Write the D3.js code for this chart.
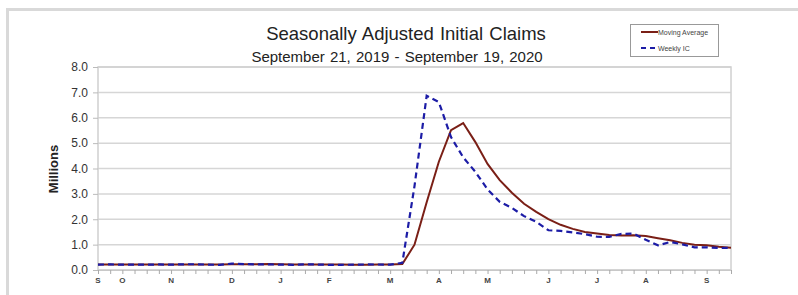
<!DOCTYPE html>
<html>
<head>
<meta charset="utf-8">
<script src="https://cdn.jsdelivr.net/npm/d3@7"></script>
<style>
  body { margin: 0; background: #fff; }
  text { font-family: "Liberation Sans", Arial, sans-serif; }
</style>
</head>
<body>
<script>
// Chart size
const w = 798;
const h = 295;

// Plot area edges
const plotLeft = 98;
const plotRight = 731;
const plotTop = 67;
const plotBottom = 270;

// Week ending dates, Sep 21 2019 - Sep 19 2020
const startWeek = new Date(2019, 8, 21);
const weekCount = 53;

// Weekly initial claims, seasonally adjusted (millions)
const weeklyIC = [
  0.213, 0.219, 0.210, 0.214, 0.212, 0.218, 0.211, 0.225, 0.227, 0.213,
  0.203, 0.252, 0.234, 0.222, 0.220, 0.214, 0.204, 0.223, 0.216, 0.202,
  0.205, 0.210, 0.219, 0.216, 0.211, 0.282, 3.307, 6.867, 6.615, 5.237,
  4.442, 3.867, 3.176, 2.687, 2.446, 2.123, 1.897, 1.566, 1.540, 1.482,
  1.413, 1.310, 1.307, 1.422, 1.435, 1.191, 0.971, 1.104, 1.011, 0.893,
  0.893, 0.866, 0.870
];

// 4-week moving average (millions)
const movingAvg = [
  0.212, 0.213, 0.214, 0.214, 0.214, 0.214, 0.214, 0.217, 0.220, 0.220,
  0.217, 0.224, 0.226, 0.228, 0.232, 0.223, 0.215, 0.215, 0.214, 0.212,
  0.212, 0.209, 0.209, 0.213, 0.212, 0.232, 0.998, 2.667, 4.268, 5.507,
  5.790, 5.040, 4.180, 3.543, 3.044, 2.608, 2.288, 2.008, 1.782, 1.621,
  1.500, 1.436, 1.378, 1.363, 1.369, 1.339, 1.255, 1.175, 1.069, 0.995,
  0.975, 0.916, 0.881
];

// Month letters and the week index they sit on
const monthLabels = ["S", "O", "N", "D", "J", "F", "M", "A", "M", "J", "J", "A", "S"];
const monthWeeks = [0, 2, 6, 11, 15, 19, 24, 28, 32, 37, 41, 45, 50];

// Y ticks
const yTicks = [0, 1, 2, 3, 4, 5, 6, 7, 8];

const weeks = d3.range(weekCount).map(i => d3.timeWeek.offset(startWeek, i));

const svg = d3.select("body").append("svg").attr("width", w).attr("height", h);

// Outer frame (grey card edge at top and left)
svg.append("rect")
  .attr("x", 7.5).attr("y", 9.5)
  .attr("width", w + 20).attr("height", h + 20)
  .attr("fill", "none")
  .attr("stroke", "#d9d9d9")
  .attr("stroke-width", 3);

const xScale = d3.scaleTime()
  .domain([weeks[0], weeks[weekCount - 1]])
  .range([plotLeft, plotRight]);

const yScale = d3.scaleLinear()
  .domain([0, 8])
  .range([plotBottom, plotTop]);

// Gridlines
svg.append("g")
  .selectAll("line")
  .data(yTicks)
  .enter()
  .append("line")
  .attr("x1", plotLeft)
  .attr("x2", plotRight)
  .attr("y1", d => yScale(d))
  .attr("y2", d => yScale(d))
  .attr("stroke", "#d6d6d6")
  .attr("stroke-width", 1.5);

// Plot border
svg.append("rect")
  .attr("x", plotLeft).attr("y", plotTop)
  .attr("width", plotRight - plotLeft).attr("height", plotBottom - plotTop)
  .attr("fill", "none")
  .attr("stroke", "#d0d0d0")
  .attr("stroke-width", 1.5);

// Y axis
const yAxis = d3.axisLeft(yScale)
  .tickValues(yTicks)
  .tickFormat(d3.format(".1f"))
  .tickSize(5)
  .tickPadding(5);

const yG = svg.append("g")
  .attr("transform", "translate(" + plotLeft + ",0)")
  .call(yAxis);
yG.select(".domain").remove();
yG.selectAll(".tick line").attr("stroke", "#bbb");
yG.selectAll("text")
  .attr("fill", "#333")
  .style("font-size", "12px");

// X axis: a tick every week, month letters underneath
const xAxis = d3.axisBottom(xScale)
  .tickValues(weeks)
  .tickSize(4)
  .tickFormat("");

const xG = svg.append("g")
  .attr("transform", "translate(0," + plotBottom + ")")
  .call(xAxis);
xG.select(".domain").attr("stroke", "#c8c8c8");
xG.selectAll(".tick line").attr("stroke", "#aaa");

svg.append("g")
  .selectAll("text")
  .data(monthLabels)
  .enter()
  .append("text")
  .attr("x", (d, i) => xScale(weeks[monthWeeks[i]]))
  .attr("y", 283)
  .attr("text-anchor", "middle")
  .attr("fill", "#444")
  .style("font-size", "8px")
  .style("font-weight", "bold")
  .text(d => d);

// Lines
const line = d3.line()
  .x((d, i) => xScale(weeks[i]))
  .y(d => yScale(d));

svg.append("path")
  .datum(movingAvg)
  .attr("d", line)
  .attr("fill", "none")
  .attr("stroke", "#7a1f16")
  .attr("stroke-width", 2);

svg.append("path")
  .datum(weeklyIC)
  .attr("d", line)
  .attr("fill", "none")
  .attr("stroke", "#1c1ca6")
  .attr("stroke-width", 2.2)
  .attr("stroke-dasharray", "6,4");

// Titles
svg.append("text")
  .attr("x", 406).attr("y", 40)
  .attr("text-anchor", "middle")
  .attr("fill", "#222")
  .style("font-size", "18.5px")
  .style("word-spacing", "1px")
  .text("Seasonally Adjusted Initial Claims");

svg.append("text")
  .attr("x", 397).attr("y", 62)
  .attr("text-anchor", "middle")
  .attr("fill", "#222")
  .style("font-size", "15px")
  .style("word-spacing", "1px")
  .text("September 21, 2019 - September 19, 2020");

// Y axis title
svg.append("text")
  .attr("transform", "translate(58,169)rotate(-90)")
  .attr("text-anchor", "middle")
  .attr("fill", "#222")
  .style("font-size", "13px")
  .style("font-weight", "bold")
  .text("Millions");

// Legend
const legend = svg.append("g").attr("transform", "translate(630,24)");
legend.append("rect")
  .attr("x", 0.5).attr("y", 0.5)
  .attr("width", 88).attr("height", 32)
  .attr("fill", "#fff")
  .attr("stroke", "#999");

const legendItems = [
  { name: "Moving Average", color: "#7a1f16", dash: null, y: 8 },
  { name: "Weekly IC", color: "#1c1ca6", dash: "5,4", y: 24 }
];

legendItems.forEach(item => {
  legend.append("line")
    .attr("x1", 11).attr("x2", 28)
    .attr("y1", item.y).attr("y2", item.y)
    .attr("stroke", item.color)
    .attr("stroke-width", 2)
    .attr("stroke-dasharray", item.dash);
  legend.append("text")
    .attr("x", 28).attr("y", item.y + 2.5)
    .attr("fill", "#444")
    .style("font-size", "7px")
    .text(item.name);
});
</script>
</body>
</html>
